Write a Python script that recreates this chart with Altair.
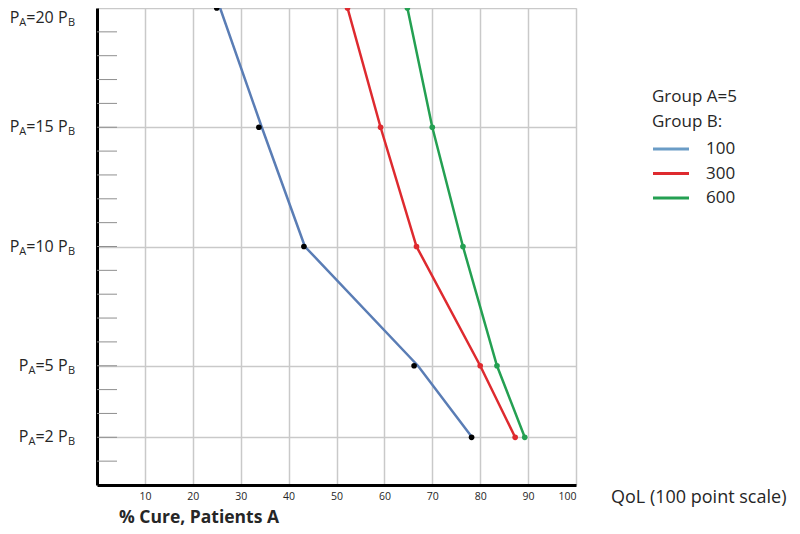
import altair as alt
import pandas as pd

# ---------------- data ----------------
levels = [20, 15, 10, 5, 2]               # P_A = n P_B
series_names = ["100", "300", "600"]      # Group B sizes
blue_line_x = [25.7, 34.4, 43.4, 67.0, 78.3]
blue_dot_x = [25.0, 33.8, 43.2, 66.2, 78.2]
red_x = [52.3, 59.2, 66.7, 80.0, 87.3]
green_x = [64.8, 70.0, 76.4, 83.5, 89.3]
x_ticks = [10, 20, 30, 40, 50, 60, 70, 80, 90, 100]
minor_ticks = list(range(1, 20))
grid_levels = [2, 5, 10, 15, 20]
legend_header = ["Group A=5", "Group B:"]
x_title = "% Cure, Patients A"
qol_title = "QoL (100 point scale)"

# ---------------- styles ----------------
FONT = "Open Sans"
TXT = "#262626"
GRID = "#c9c9c9"
line_colors = ["#5a7db5", "#de2a2f", "#24a052"]
legend_colors = ["#6a9cc6", "#de2a2f", "#24a052"]
dot_colors = ["#000000", "#de2a2f", "#24a052"]
W, H = 479, 477

line_rows, dot_rows = [], []
for name, lx, dx_ in zip(series_names, [blue_line_x, red_x, green_x], [blue_dot_x, red_x, green_x]):
    for i, (lv, a, b) in enumerate(zip(levels, lx, dx_)):
        line_rows.append({"series": name, "level": lv, "x": a, "order": i})
        dot_rows.append({"series": name, "level": lv, "x": b})
lines_df = pd.DataFrame(line_rows)
dots_df = pd.DataFrame(dot_rows)
labels_df = pd.DataFrame({"n": levels})
ticks_df = pd.DataFrame({"t": minor_ticks})
legend_df = pd.DataFrame({"series": series_names, "i": list(range(len(series_names)))})

xscale = alt.Scale(domain=[0, 100], nice=False)
yscale = alt.Scale(domain=[0, 20], nice=False)

x_axis = alt.Axis(values=x_ticks, title=None, grid=True, gridColor=GRID, gridWidth=1.5,
                  ticks=False, domainColor="black", domainWidth=3, labelFont=FONT,
                  labelFontSize=10.5, labelColor=TXT, labelPadding=6)
y_axis = alt.Axis(values=grid_levels, title=None, labels=False, ticks=False, grid=True,
                  gridColor=GRID, gridWidth=1.5, domainColor="black", domainWidth=3)

lines = alt.Chart(lines_df).mark_line(strokeWidth=2.5).encode(
    x=alt.X("x:Q", scale=xscale, axis=x_axis),
    y=alt.Y("level:Q", scale=yscale, axis=y_axis),
    stroke=alt.Stroke("series:N", scale=alt.Scale(domain=series_names, range=line_colors), legend=None),
    order="order:Q",
)

dots = alt.Chart(dots_df).mark_circle(size=32, opacity=1).encode(
    x=alt.X("x:Q", scale=xscale),
    y=alt.Y("level:Q", scale=yscale),
    color=alt.Color("series:N", scale=alt.Scale(domain=series_names, range=dot_colors), legend=None),
)

minor = alt.Chart(ticks_df).mark_rule(color="#8f8f8f", strokeWidth=1).encode(
    y=alt.Y("t:Q", scale=yscale), x=alt.value(0), x2=alt.value(20)
)


def label_layers(flt, dy0):
    base = alt.Chart(labels_df).transform_filter(flt).transform_calculate(
        eq="'=' + toString(datum.n)",
        w="(length(toString(datum.n)) + 1) * 9.15",
        xa="-43.3 - datum.w",
        xp="-43.3 - datum.w - 7.0",
    )
    big = dict(font=FONT, fontSize=16, color=TXT, align="right", baseline="middle")
    small = dict(font=FONT, fontSize=11, color=TXT, align="right", baseline="middle")
    y = alt.Y("n:Q", scale=yscale)
    return [
        base.mark_text(dy=dy0, **big).encode(y=y, x=alt.X("xp:Q", scale=None), text=alt.value("P")),
        base.mark_text(dy=dy0 + 5, **small).encode(y=y, x=alt.X("xa:Q", scale=None), text=alt.value("A")),
        base.mark_text(dy=dy0, **big).encode(y=y, x=alt.value(-43.3), text="eq:N"),
        base.mark_text(dy=dy0, **big).encode(y=y, x=alt.value(-29.5), text=alt.value("P")),
        base.mark_text(dy=dy0 + 5, **small).encode(y=y, x=alt.value(-22), text=alt.value("B")),
    ]


ylabels = label_layers("datum.n == 20", 10) + label_layers("datum.n != 20", 0)

hdr = [
    alt.Chart(pd.DataFrame({"t": [legend_header[0]]})).mark_text(
        font=FONT, fontSize=17, color=TXT, align="left", baseline="middle"
    ).encode(text="t:N", x=alt.value(555), y=alt.value(89)),
    alt.Chart(pd.DataFrame({"t": [legend_header[1]]})).mark_text(
        font=FONT, fontSize=17, color=TXT, align="left", baseline="middle"
    ).encode(text="t:N", x=alt.value(555), y=alt.value(114)),
]
leg_base = alt.Chart(legend_df).transform_calculate(ly="141 + datum.i * 24.5")
leg_lines = leg_base.mark_rule(strokeWidth=3).encode(
    x=alt.value(556), x2=alt.value(592), y=alt.Y("ly:Q", scale=None),
    color=alt.Color("series:N", scale=alt.Scale(domain=series_names, range=legend_colors), legend=None),
)
leg_text = leg_base.mark_text(font=FONT, fontSize=17, color=TXT, align="left", baseline="middle").encode(
    x=alt.value(609), y=alt.Y("ly:Q", scale=None), text="series:N"
)

titles = [
    alt.Chart(pd.DataFrame({"t": [x_title]})).mark_text(
        font=FONT, fontSize=17.5, fontWeight="bold", color=TXT, align="left", baseline="middle"
    ).encode(text="t:N", x=alt.value(22), y=alt.value(510)),
    alt.Chart(pd.DataFrame({"t": [qol_title]})).mark_text(
        font=FONT, fontSize=18, color=TXT, align="left", baseline="middle"
    ).encode(text="t:N", x=alt.value(514), y=alt.value(490)),
]

chart = alt.layer(minor, lines, dots, *ylabels, *hdr, leg_lines, leg_text, *titles).resolve_scale(
    color="independent"
).properties(
    width=W, height=H,
    autosize=alt.AutoSizeParams(type="none"),
    padding={"left": 89, "top": 0, "right": 216, "bottom": 43},
).configure_view(stroke=None).configure(background="white")

chart.save("out.html", embed_options={"renderer": "svg", "actions": False})
